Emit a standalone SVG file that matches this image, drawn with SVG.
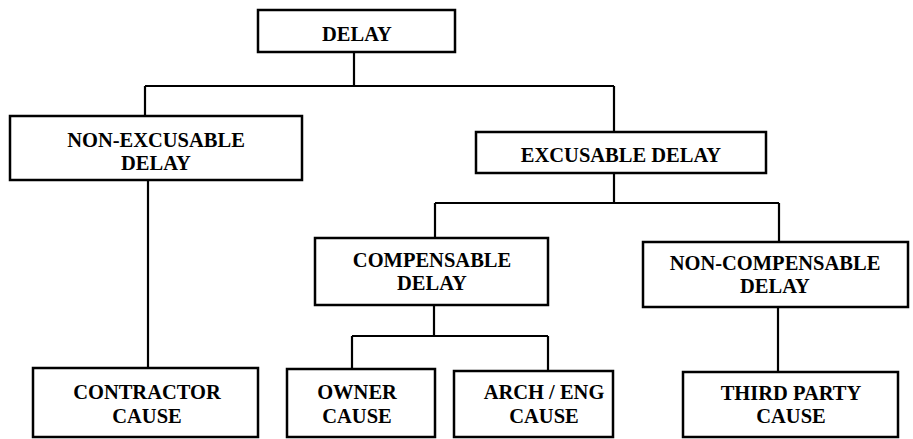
<svg xmlns="http://www.w3.org/2000/svg" width="913" height="439" viewBox="0 0 913 439">
<style>
.box{fill:#fff;stroke:#000;stroke-width:2.5}
.lbl{font-family:"Liberation Serif","Times New Roman",serif;font-weight:bold;font-size:20.5px;fill:#000;text-anchor:middle}
.con{fill:none;stroke:#000;stroke-width:2.2}
</style>
<rect width="913" height="439" fill="#fff"/>
<g id="connectors">
<path class="con" d="M354,52V86M145,86H614M145,86V116M614,86V132"/>
<path class="con" d="M148,180V368"/>
<path class="con" d="M614,173V203M435,203H779M435,203V238M779,203V242"/>
<path class="con" d="M434,305V336M352,336H548M352,336V369M548,336V371"/>
<path class="con" d="M778,307V372"/>
</g>
<g id="delay"><rect class="box" x="258" y="10" width="197" height="42"/><text class="lbl" x="357" y="41">DELAY</text></g>
<g id="non-excusable"><rect class="box" x="10" y="116" width="292" height="64"/><text class="lbl" x="156" y="147">NON-EXCUSABLE</text><text class="lbl" x="156" y="170">DELAY</text></g>
<g id="excusable"><rect class="box" x="476" y="132" width="290" height="41"/><text class="lbl" x="621" y="162">EXCUSABLE DELAY</text></g>
<g id="compensable"><rect class="box" x="315" y="238" width="233" height="67"/><text class="lbl" x="432" y="267">COMPENSABLE</text><text class="lbl" x="432" y="290">DELAY</text></g>
<g id="non-compensable"><rect class="box" x="643" y="242" width="265" height="65"/><text class="lbl" x="775" y="270">NON-COMPENSABLE</text><text class="lbl" x="775" y="293">DELAY</text></g>
<g id="contractor"><rect class="box" x="33" y="368" width="225" height="69"/><text class="lbl" x="147" y="399">CONTRACTOR</text><text class="lbl" x="147" y="423">CAUSE</text></g>
<g id="owner"><rect class="box" x="287" y="369" width="148" height="68"/><text class="lbl" x="357" y="399">OWNER</text><text class="lbl" x="357" y="423">CAUSE</text></g>
<g id="arch-eng"><rect class="box" x="454" y="371" width="159" height="66"/><text class="lbl" x="544" y="399">ARCH / ENG</text><text class="lbl" x="544" y="423">CAUSE</text></g>
<g id="third-party"><rect class="box" x="683" y="372" width="215" height="65"/><text class="lbl" x="791" y="400">THIRD PARTY</text><text class="lbl" x="791" y="423">CAUSE</text></g>
</svg>
